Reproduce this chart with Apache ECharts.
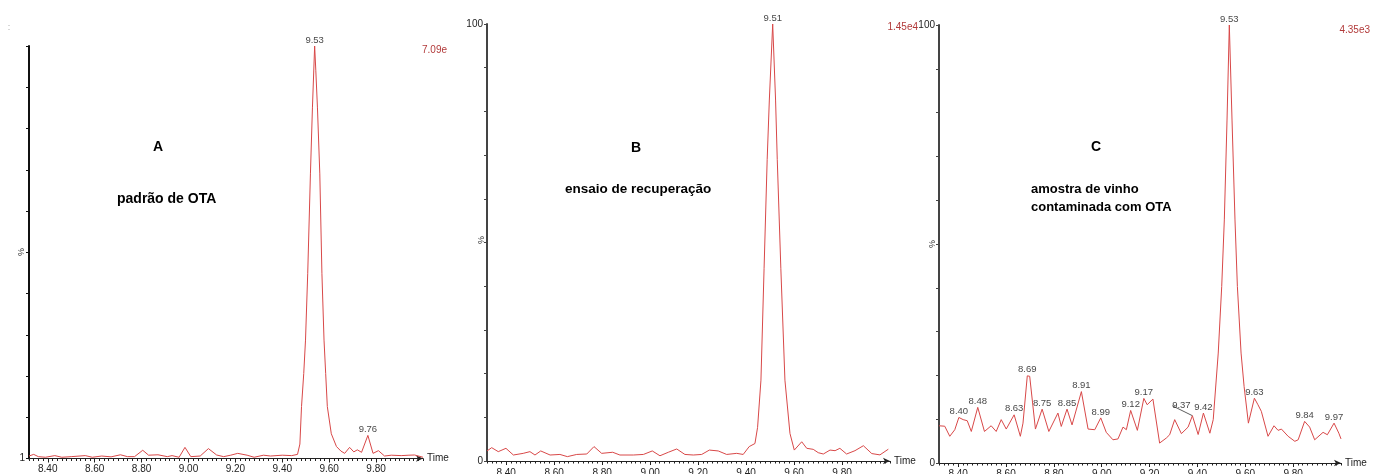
<!DOCTYPE html>
<html>
<head>
<meta charset="utf-8">
<script src="https://cdn.jsdelivr.net/npm/echarts@6.0.0/dist/echarts.min.js"></script>
<style>
html,body{margin:0;padding:0;background:#fff;}
#chart{width:1378px;height:474px;}
</style>
</head>
<body>
<div id="chart"></div>
<script>
// ---------- data ----------
const tickLabels = ['8.40','8.60','8.80','9.00','9.20','9.40','9.60','9.80'];

// Panel A : padrão de OTA (time, % intensity)
const timeA = [8.32,8.34,8.36,8.39,8.43,8.46,8.50,8.56,8.59,8.63,8.67,8.71,8.74,8.77,8.805,8.83,8.87,8.91,8.93,8.96,8.985,9.01,9.05,9.085,9.12,9.15,9.18,9.21,9.25,9.28,9.32,9.35,9.40,9.44,9.465,9.475,9.482,9.4915,9.499,9.5085,9.52,9.5285,9.538,9.543,9.55,9.56,9.569,9.578,9.585,9.592,9.609,9.631,9.65,9.666,9.687,9.705,9.72,9.738,9.765,9.787,9.81,9.836,9.865,9.907,9.94,9.964,10.0];
const valA  = [0.6,1.0,0.45,0.3,0.7,0.3,0.45,0.7,0.3,0.6,0.4,0.9,0.45,0.45,2.0,0.8,0.9,0.45,0.7,0.3,2.7,0.45,0.6,2.4,0.85,0.45,0.8,1.25,0.8,0.3,0.8,0.6,0.8,0.7,1.0,3.5,12.6,20.6,28.7,44.9,69,85,100,94,85,69,44.9,28.7,20.6,12.6,6,2.9,1.8,1.25,2.7,1.6,2.1,1.5,5.6,1.25,1.9,0.6,0.8,0.7,0.8,0.85,0.3];
const peakTimeA = [9.538, 9.765];
const peakValA  = [100, 5.6];
const peakLabelA = ['9.53','9.76'];

// Panel B : ensaio de recuperação
const timeB = [8.32,8.3396,8.367,8.399,8.43,8.471,8.499,8.52,8.544,8.583,8.624,8.655,8.694,8.736,8.766,8.798,8.844,8.874,8.93,8.972,9.009,9.041,9.076,9.111,9.145,9.18,9.215,9.247,9.284,9.319,9.361,9.388,9.413,9.437,9.448,9.462,9.475,9.488,9.497,9.511,9.523,9.53,9.545,9.562,9.583,9.601,9.632,9.653,9.68,9.701,9.722,9.75,9.771,9.791,9.819,9.854,9.889,9.924,9.958,9.993];
const valB  = [2.3,3.05,2.14,2.9,1.37,1.75,2.14,1.37,2.3,1.37,1.5,1.0,1.5,1.6,3.3,1.75,2.0,1.37,1.37,1.5,2.3,1.2,2.0,2.75,1.5,1.37,1.5,2.5,2.3,1.5,1.75,1.5,3.3,4.0,7.7,18.5,44,69,82.6,100,82.6,69,44,18.5,6.3,2.5,4.4,2.9,2.67,1.9,1.6,2.5,2.36,2.9,1.6,2.36,3.5,1.7,1.4,2.7];
const peakTimeB = [9.511];
const peakValB  = [100];
const peakLabelB = ['9.51'];

// Panel C : amostra de vinho contaminada com OTA
const timeC = [8.32,8.344,8.365,8.386,8.403,8.421,8.438,8.455,8.482,8.51,8.538,8.559,8.58,8.601,8.634,8.66,8.671,8.689,8.699,8.723,8.751,8.779,8.817,8.831,8.855,8.876,8.915,8.943,8.971,8.996,9.019,9.047,9.068,9.089,9.103,9.121,9.149,9.176,9.19,9.214,9.242,9.27,9.284,9.305,9.333,9.361,9.379,9.403,9.425,9.452,9.466,9.487,9.5015,9.5124,9.5237,9.5333,9.5446,9.557,9.567,9.5824,9.595,9.613,9.638,9.653,9.667,9.695,9.72,9.737,9.751,9.779,9.807,9.821,9.848,9.869,9.89,9.925,9.943,9.971,9.991,10.0];
const valC  = [8.5,8.4,6.1,7.6,10.4,9.9,9.65,7.2,12.7,7.2,8.5,7.2,9.9,7.75,11.0,6.1,9.1,19.9,19.8,7.75,12.3,7.2,11.4,8.35,12.3,8.7,16.3,7.75,7.6,10.3,7.0,5.3,5.5,8.2,7.6,12.0,7.45,14.75,13.3,14.6,4.55,5.7,6.45,9.9,6.7,8.2,10.8,6.5,11.4,6.8,9.9,25.1,40.3,55.5,78.3,100,78.3,55.5,40.3,25.1,17.5,9.1,14.8,13.3,11.8,6.1,8.5,7.45,7.75,6.1,4.95,5.3,9.5,8.2,5.3,7.0,6.45,9.1,6.8,5.5];
const peakTimeC = [8.403,8.482,8.634,8.689,8.751,8.855,8.915,8.996,9.121,9.176,9.379,9.425,9.5333,9.638,9.848,9.971];
const peakValC  = [10.4,12.7,11.0,19.9,12.3,12.3,16.3,10.3,12.0,14.75,10.8,11.4,100,14.8,9.5,9.1];
const peakLabelC = ['8.40','8.48','8.63','8.69','8.75','8.85','8.91','8.99','9.12','9.17','9.37','9.42','9.53','9.63','9.84','9.97'];
const leaderLabel = '9.37';   // label drawn with a leader line

// ---------- build ----------
const FONT = 'Liberation Sans, Arial, sans-serif';
const TRACE = '#d84848';
const labelVals = tickLabels.map(Number);
const minorTicks = []; for (let k = 832; k <= 1000; k += 2) minorTicks.push(k / 100);
const yTicks = []; for (let k = 0; k <= 100; k += 10) yTicks.push(k);

const grids = [
  {left: 29,  top: 46, width: 394, bottom: 15.5, outerBoundsMode: 'none', containLabel: false},
  {left: 487, top: 24, width: 403, bottom: 13, outerBoundsMode: 'none', containLabel: false},
  {left: 939, top: 25, width: 402, bottom: 11, outerBoundsMode: 'none', containLabel: false}
];
const xMargin = [6, 7, 6];
const yFmt = [
  v => (v === 0 ? '1' : ''),
  v => (v === 0 ? '0' : '100'),
  v => (v === 0 ? '0' : '100')
];
const yAxisColor = ['#111', '#444', '#444'];

const xAxes = [], yAxes = [];
grids.forEach((g, i) => {
  xAxes.push({
    type: 'value', gridIndex: i, min: 8.32, max: 10.0,
    axisLine: {show: true, onZero: false, lineStyle: {color: '#222', width: 1}, symbol: ['none', 'arrow'], symbolSize: [5, 7]},
    axisTick: {show: true, customValues: labelVals, length: 4, lineStyle: {color: '#222'}},
    axisLabel: {show: true, customValues: labelVals, formatter: v => v.toFixed(2), fontSize: 10, color: '#222', margin: xMargin[i], fontFamily: FONT},
    splitLine: {show: false},
    name: 'Time', nameLocation: 'end', nameGap: 4,
    nameTextStyle: {fontSize: 10, color: '#222', fontFamily: FONT}
  });
  xAxes.push({
    type: 'value', gridIndex: i, min: 8.32, max: 10.0, position: 'bottom',
    axisLine: {show: false},
    axisTick: {show: true, customValues: minorTicks, length: 2.5, lineStyle: {color: '#222'}},
    axisLabel: {show: false},
    splitLine: {show: false}
  });
  yAxes.push({
    type: 'value', gridIndex: i, min: 0, max: 100,
    axisLine: {show: true, lineStyle: {color: yAxisColor[i], width: 2}},
    axisTick: {show: true, customValues: yTicks, length: 3, lineStyle: {color: yAxisColor[i]}},
    axisLabel: {show: true, customValues: [0, 100], formatter: yFmt[i], fontSize: 10, color: '#222', margin: 4, fontFamily: FONT},
    splitLine: {show: false}
  });
});

const panels = [
  {t: timeA, v: valA, pt: peakTimeA, pv: peakValA, pl: peakLabelA},
  {t: timeB, v: valB, pt: peakTimeB, pv: peakValB, pl: peakLabelB},
  {t: timeC, v: valC, pt: peakTimeC, pv: peakValC, pl: peakLabelC}
];
const series = [];
panels.forEach((p, i) => {
  series.push({
    type: 'line', xAxisIndex: i * 2, yAxisIndex: i,
    data: p.t.map((t, k) => [t, p.v[k]]),
    symbol: 'none', showSymbol: false, silent: true,
    lineStyle: {color: TRACE, width: 1}
  });
  series.push({
    type: 'scatter', xAxisIndex: i * 2, yAxisIndex: i,
    data: p.pt.map((t, k) => {
      const item = {value: [t, p.pv[k]]};
      if (p.pl[k] === leaderLabel) item.labelLine = {show: true, lineStyle: {color: '#333', width: 0.8}};
      return item;
    }),
    symbolSize: 0, silent: true,
    label: {show: true, position: 'top', distance: 1, fontSize: 9.5, color: '#111', fontFamily: FONT,
            formatter: q => p.pl[q.dataIndex]},
    labelLine: {show: false},
    labelLayout: q => (p.pl[q.dataIndex] === leaderLabel) ? {dx: -11, dy: -4} : {}
  });
});

function txt(x, y, s, font, align, fill, rot) {
  return {type: 'text', x: x, y: y, rotation: rot || 0, silent: true,
          style: {text: s, font: font, fill: fill || '#000', align: align || 'left', verticalAlign: 'middle'}};
}
const R10 = '10px ' + FONT;
const graphics = [
  txt(158, 147, 'A', 'bold 14px ' + FONT, 'center'),
  txt(117, 199, 'padrão de OTA', 'bold 14px ' + FONT),
  txt(636, 148, 'B', 'bold 14px ' + FONT, 'center'),
  txt(565, 189, 'ensaio de recuperação', 'bold 13.5px ' + FONT),
  txt(1096, 147, 'C', 'bold 14px ' + FONT, 'center'),
  txt(1031, 189, 'amostra de vinho', 'bold 13px ' + FONT),
  txt(1031, 207, 'contaminada com OTA', 'bold 13px ' + FONT),
  txt(447, 50, '7.09e', R10, 'right', '#b23a3a'),
  txt(918, 27, '1.45e4', R10, 'right', '#b23a3a'),
  txt(1370, 30, '4.35e3', R10, 'right', '#b23a3a'),
  txt(22, 252, '%', '9px ' + FONT, 'center', '#333', Math.PI / 2),
  txt(482, 240, '%', '9px ' + FONT, 'center', '#333', Math.PI / 2),
  txt(933, 244, '%', '9px ' + FONT, 'center', '#333', Math.PI / 2),
  txt(9, 28, ':', '9px ' + FONT, 'center', '#aaa')
];

const chart = echarts.init(document.getElementById('chart'), null, {renderer: 'canvas'});
chart.setOption({
  backgroundColor: '#fff',
  animation: false,
  textStyle: {fontFamily: FONT},
  grid: grids,
  xAxis: xAxes,
  yAxis: yAxes,
  series: series,
  graphic: graphics
});
</script>
</body>
</html>
